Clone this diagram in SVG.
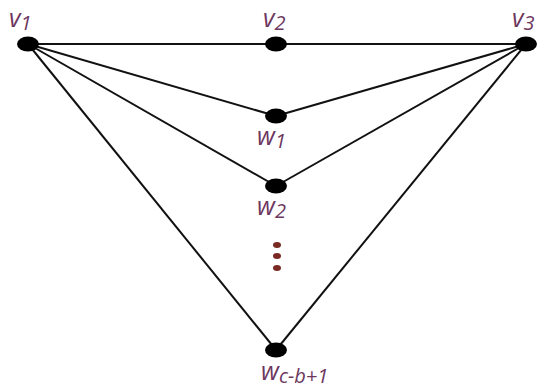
<svg xmlns="http://www.w3.org/2000/svg" width="550" height="388" viewBox="0 0 550 388">
<style>
.e{stroke:#111;stroke-width:2;fill:none}
.n{fill:#000}
.t{font-family:"Open Sans","DejaVu Sans",sans-serif;fill:#6d3760;font-size:25px;font-style:italic}
.s{font-size:20px}
.d{fill:#7a2a22}
</style>
<rect width="550" height="388" fill="#fff"/>
<g id="connectors">
<line class="e" x1="28" y1="44" x2="526" y2="44"/>
<line class="e" x1="28" y1="44" x2="276" y2="116"/>
<line class="e" x1="28" y1="44" x2="276" y2="186"/>
<line class="e" x1="28" y1="44" x2="276" y2="350"/>
<line class="e" x1="526" y1="44" x2="276" y2="116"/>
<line class="e" x1="526" y1="44" x2="276" y2="186"/>
<line class="e" x1="526" y1="44" x2="276" y2="350"/>
</g>
<g id="v1"><ellipse class="n" cx="28" cy="44" rx="11" ry="7.5"/><text class="t" x="9" y="27">v<tspan class="s" dy="3">1</tspan></text></g>
<g id="v2"><ellipse class="n" cx="276" cy="44" rx="11" ry="7.5"/><text class="t" x="263" y="27">v<tspan class="s" dy="3">2</tspan></text></g>
<g id="v3"><ellipse class="n" cx="526" cy="44" rx="11" ry="7.5"/><text class="t" x="512" y="27">v<tspan class="s" dy="3">3</tspan></text></g>
<g id="w1"><ellipse class="n" cx="276" cy="116" rx="11" ry="7.5"/><text class="t" x="257" y="145">w<tspan class="s" dy="3">1</tspan></text></g>
<g id="w2"><ellipse class="n" cx="276" cy="186" rx="11" ry="7.5"/><text class="t" x="257" y="215">w<tspan class="s" dy="3">2</tspan></text></g>
<g id="dots"><ellipse class="d" cx="277" cy="245" rx="4" ry="3"/><ellipse class="d" cx="277" cy="256" rx="4" ry="3"/><ellipse class="d" cx="277" cy="268" rx="4" ry="3"/></g>
<g id="wc"><ellipse class="n" cx="276" cy="350" rx="11" ry="7.5"/><text class="t" x="261" y="380">w<tspan class="s" dy="3">c-b+1</tspan></text></g>
</svg>
